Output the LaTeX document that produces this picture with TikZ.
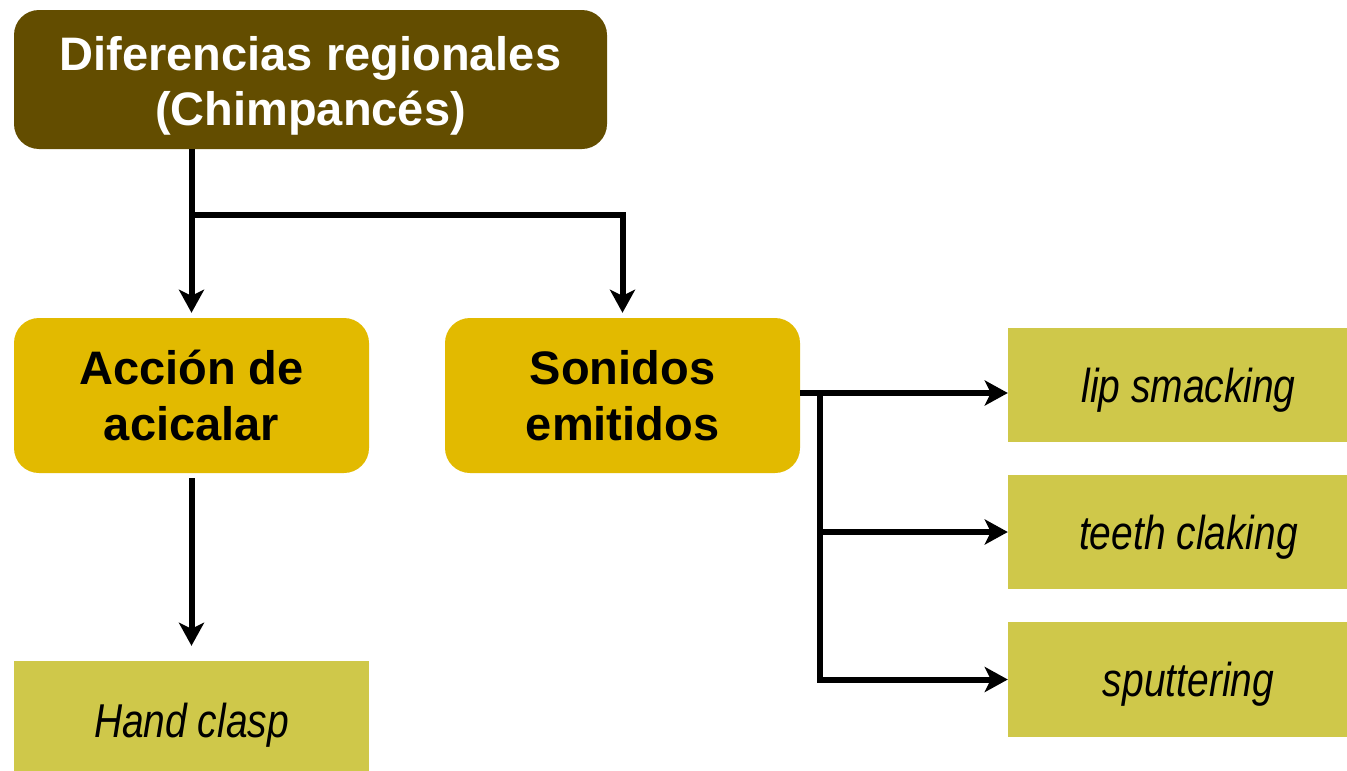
\documentclass[tikz,border=0pt]{standalone}
\usepackage{fontspec}
\setmainfont{Liberation Sans}
\newfontfamily\estrecha[FakeStretch=0.82]{Liberation Sans}
\usetikzlibrary{arrows.meta}

\definecolor{oliva}{RGB}{99,77,0}
\definecolor{oro}{RGB}{226,186,0}
\definecolor{hoja}{RGB}{207,200,74}

% lower a block of lines without changing its size
\newcommand{\bajar}[2]{\raisebox{-#1}[\height][\depth]{\begin{tabular}{@{}c@{}}#2\end{tabular}}}

\begin{document}
\begin{tikzpicture}
      [
        x=1pt, y=-1pt,
        titulo/.style={fill=oliva, rounded corners=25pt, text=white, align=center,
          inner sep=0pt, minimum width=593pt, minimum height=139pt,
          font=\fontsize{47}{55}\selectfont\bfseries},
        rama/.style={fill=oro, rounded corners=25pt, align=center,
          inner sep=0pt, minimum width=355pt, minimum height=155pt,
          font=\fontsize{47}{56}\selectfont\bfseries},
        hoja/.style={fill=hoja, inner sep=0pt, minimum height=114pt, text depth=0pt,
          font=\estrecha\itshape\fontsize{47.5}{52}\selectfont},
        flecha/.style={line width=6pt, -{Stealth[length=23pt,width=25pt,inset=6pt]},
          shorten >=5pt}
      ]
      \useasboundingbox (0,0) rectangle (1347,771);
      % top
      \node [titulo] (dif) at (310.5,79.5) {\bajar{7pt}{Diferencias regionales\\(Chimpancés)}};
      % second row
      \node [rama] (acc) at (191.5,395.5) {Acción de\\acicalar};
      \node [rama] (son) at (622.5,395.5) {Sonidos\\emitidos};
      % leaves (cut by the border)
      \node [hoja, minimum width=355pt, minimum height=118pt] (hand) at (191.5,720) {Hand clasp};
      \node [hoja, minimum width=361pt] (lip) at (1188.5,385) {lip smacking};
      \node [hoja, minimum width=361pt] (teeth) at (1188.5,532) {teeth claking};
      \node [hoja, minimum width=361pt, minimum height=115pt] (sput) at (1188.5,679.5) {sputtering};
      % edges
      \coordinate (cruce) at (193,215);
      \coordinate (eje) at (820,393);
      \draw [flecha] (dif.south -| acc) -- (acc.north);
      \draw [flecha] (cruce) -| (son.north);
      \draw [flecha, shorten >=15pt] (acc.south) ++(0,5) -- (hand.north);
      \draw [flecha, shorten >=0pt] (son.east |- eje) -- (eje -| lip.west);
      \draw [flecha, shorten >=0pt] (eje) |- (teeth.west);
      \draw [flecha, shorten >=0pt] (eje) |- (sput.west);
    \end{tikzpicture}
\end{document}
